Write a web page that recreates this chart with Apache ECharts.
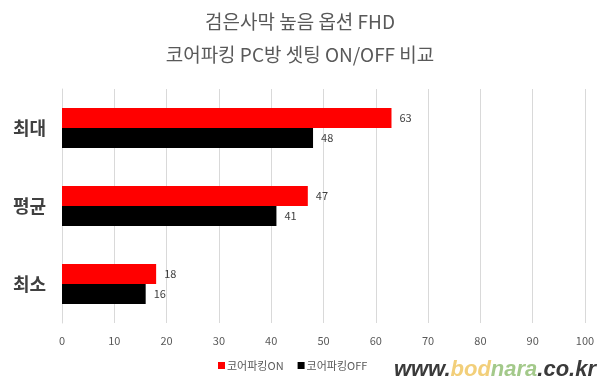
<!DOCTYPE html>
<html><head><meta charset="utf-8">
<script src="https://cdn.jsdelivr.net/npm/echarts@6/dist/echarts.min.js"></script>
<style>html,body{margin:0;padding:0;background:#fff}#c{width:600px;height:382px}</style>
</head><body><div id="c"></div>
<script>
const categories = ['최대', '평균', '최소'];
const onValues = [63, 47, 18];
const offValues = [48, 41, 16];
const xTicks = [0, 10, 20, 30, 40, 50, 60, 70, 80, 90, 100];
const seriesNames = ['코어파킹ON', '코어파킹OFF'];

const chart = echarts.init(document.getElementById('c'));
const lbl = {show: true, position: 'right', color: '#404040', fontSize: 11, fontFamily: 'Noto Sans CJK KR', distance: 8};
chart.setOption({
  animation: false,
  title: {
    text: '검은사막 높음 옵션 FHD\n코어파킹 PC방 셋팅 ON/OFF 비교',
    left: 'center', top: 0,
    textStyle: {fontSize: 19, fontWeight: 'normal', color: '#595959', lineHeight: 33, fontFamily: 'Noto Sans CJK KR'}
  },
  legend: {
    data: seriesNames, bottom: 6, left: 213, itemWidth: 7, itemHeight: 7, itemGap: 14,
    icon: 'rect',
    textStyle: {fontSize: 11, color: '#595959', fontFamily: 'Noto Sans CJK KR', padding: [0, 0, 0, -3]}
  },
  grid: {left: 62, right: 15, top: 89, bottom: 59},
  xAxis: {
    type: 'value', min: xTicks[0], max: xTicks[xTicks.length - 1], interval: 10,
    axisLine: {show: false}, axisTick: {show: false},
    splitLine: {lineStyle: {color: '#d9d9d9'}},
    axisLabel: {color: '#595959', fontSize: 11, margin: 12, fontFamily: 'Noto Sans CJK KR'}
  },
  yAxis: {
    type: 'category', data: categories, inverse: true,
    axisLine: {show: true, lineStyle: {color: '#d9d9d9'}}, axisTick: {show: false},
    axisLabel: {color: '#404040', fontSize: 18, fontWeight: 'bold', margin: 16, fontFamily: 'Noto Sans CJK KR'}
  },
  series: [
    {name: seriesNames[0], type: 'bar', data: onValues, itemStyle: {color: '#ff0000'}, barWidth: 20, barGap: '0%', barCategoryGap: '49%', label: lbl},
    {name: seriesNames[1], type: 'bar', data: offValues, itemStyle: {color: '#000000'}, barWidth: 20, barGap: '0%', barCategoryGap: '49%', label: lbl}
  ],
  graphic: [{
    type: 'text', right: 4, bottom: 1,
    style: {
      text: '{a|www.}{b|bod}{c|nara}{a|.co.kr}',
      rich: {
        a: {fontSize: 22, fontStyle: 'italic', fontWeight: 'bold', fill: '#3a3a3a', fontFamily: 'Liberation Sans'},
        b: {fontSize: 22, fontStyle: 'italic', fontWeight: 'bold', fill: '#f2cf7a', fontFamily: 'Liberation Sans'},
        c: {fontSize: 22, fontStyle: 'italic', fontWeight: 'bold', fill: '#a3c98a', fontFamily: 'Liberation Sans'}
      }
    }
  }]
});
</script></body></html>
